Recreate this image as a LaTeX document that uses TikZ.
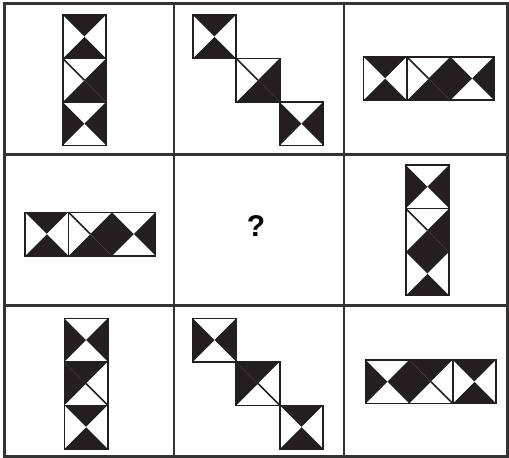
\documentclass[tikz,border=0pt]{standalone}
\usepackage{fontspec}
\setmainfont{Liberation Sans}
\definecolor{ink}{HTML}{231F20}
\definecolor{gridc}{HTML}{333333}
\def\sz{43.5}
% \tile{x}{y}{top}{right}{bottom}{left}{extra}
\newcommand{\tile}[7]{%
  \begin{scope}[shift={(#1,#2)}]
    \coordinate (c) at (\sz/2,\sz/2);
    \fill[#3] (0,0) -- (\sz,0) -- (c) -- cycle;
    \fill[#4] (\sz,0) -- (\sz,\sz) -- (c) -- cycle;
    \fill[#5] (\sz,\sz) -- (0,\sz) -- (c) -- cycle;
    \fill[#6] (0,\sz) -- (0,0) -- (c) -- cycle;
    #7
    \draw[tileline] (0,0) rectangle (\sz,\sz);
  \end{scope}}
\newcommand{\tH}[2]{\tile{#1}{#2}{ink}{white}{ink}{white}{}}
\newcommand{\tV}[2]{\tile{#1}{#2}{white}{ink}{white}{ink}{}}
\newcommand{\tA}[2]{\tile{#1}{#2}{white}{ink}{ink}{white}{\draw[tileline] (0,0) -- (c);}}
\newcommand{\tB}[2]{\tile{#1}{#2}{ink}{white}{white}{ink}{\draw[tileline] (\sz,\sz) -- (c);}}
\begin{document}
\begin{tikzpicture}[x=1pt,y=-1pt,
  gridline/.style={draw=gridc,line width=2.2},
  tileline/.style={draw=ink,line width=1.6}]
\useasboundingbox (0,0) rectangle (509,458);
% grid
\draw[gridline] (4.5,3.5) rectangle (507.5,456.5);
\draw[gridline] (174.3,3.5) -- (174.3,456.5);
\draw[gridline] (344,3.5) -- (344,456.5);
\draw[gridline] (4.5,154.5) -- (507.5,154.5);
\draw[gridline] (4.5,305.5) -- (507.5,305.5);
% row 1
\tH{62.7}{15}\tA{62.7}{58.5}\tV{62.7}{102}
\tH{192.7}{15}\tA{236.2}{58.5}\tV{279.7}{102}
\tH{363.3}{56.7}\tA{406.8}{56.7}\tV{450.3}{56.7}
% row 2
\tH{25}{212.3}\tA{68.5}{212.3}\tV{112}{212.3}
\node[font=\bfseries\fontsize{30}{34}\selectfont] (q) at (256,226) {?};
\tV{405.7}{165}\tA{405.7}{208.5}\tH{405.7}{252}
% row 3
\tV{64.3}{318.3}\tB{64.3}{361.8}\tH{64.3}{405.3}
\tV{192.7}{318.3}\tB{236.2}{361.8}\tH{279.7}{405.3}
\tV{365.7}{360}\tB{409.2}{360}\tH{452.7}{360}
\end{tikzpicture}
\end{document}
